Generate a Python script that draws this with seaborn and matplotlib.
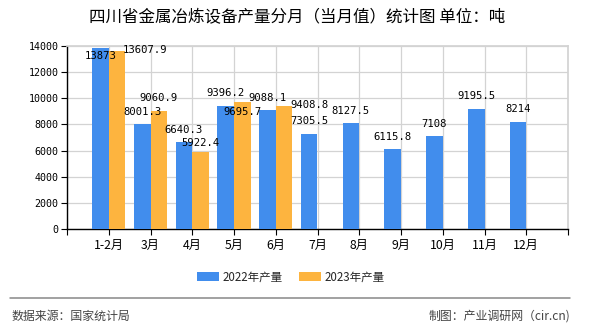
import matplotlib
matplotlib.use("Agg")
import matplotlib.pyplot as plt
import seaborn as sns
import pandas as pd
import numpy as np
from matplotlib.lines import Line2D
from matplotlib.patches import Patch

months = ["1-2月", "3月", "4月", "5月", "6月", "7月", "8月", "9月", "10月", "11月", "12月"]
prod_2022 = [13873, 8001.3, 6640.3, 9396.2, 9088.1, 7305.5, 8127.5, 6115.8, 7108, 9195.5, 8214]
prod_2023 = [13607.9, 9060.9, 5922.4, 9695.7, 9408.8, None, None, None, None, None, None]
label_2022 = ["13873", "8001.3", "6640.3", "9396.2", "9088.1", "7305.5", "8127.5", "6115.8", "7108", "9195.5", "8214"]
label_2023 = ["13607.9", "9060.9", "5922.4", "9695.7", "9408.8", "", "", "", "", "", ""]
series = ["2022年产量", "2023年产量"]
colors = ["#418DED", "#FDB43F"]

rows = []
for m, v in zip(months, prod_2022):
    rows.append({"month": m, "series": series[0], "value": v})
for m, v in zip(months, prod_2023):
    if v is not None:
        rows.append({"month": m, "series": series[1], "value": v})
df = pd.DataFrame(rows)

sns.set_theme(style="white")
cjk = ["Noto Sans CJK SC", "DejaVu Sans"]
plt.rcParams["font.family"] = cjk

fig = plt.figure(figsize=(5.9, 3.3), dpi=100)
ax = fig.add_axes([67 / 590, 1 - 229 / 330, (568 - 67) / 590, (229 - 46) / 330])

sns.barplot(data=df, x="month", y="value", hue="series", order=months,
            hue_order=series, palette=colors, width=0.8, saturation=1,
            ax=ax, legend=False, zorder=3, edgecolor="none", linewidth=0)

ax.set_xlim(-0.96, 11)
ax.set_ylim(0, 14000)
ax.set_yticks(np.arange(0, 14001, 2000))
ax.set_yticklabels([str(int(t)) for t in np.arange(0, 14001, 2000)],
                   family="DejaVu Sans Mono", fontsize=7.2)
ticks = list(range(-1, 12))
ax.set_xticks(ticks)
ax.set_xticklabels([""] + months + [""], fontsize=8.8)
ax.set_xlabel("")
ax.set_ylabel("")
ax.grid(True, color="#d3d3d3", linewidth=0.9, zorder=0)
for s in ["top", "right"]:
    ax.spines[s].set_color("#d3d3d3")
for s in ["left", "bottom"]:
    ax.spines[s].set_color("black")
    ax.spines[s].set_linewidth(1.0)
ax.tick_params(axis="both", which="both", length=4, color="black", width=0.8,
               direction="out", bottom=True, left=True, pad=2, colors="black")
ax.tick_params(axis="x", pad=3)

# value labels (pixel nudges to mimic the reference's placement)
nudge_2022 = [(0, -8), (0, 12), (0, 12), (0, 13), (0, 12), (0, 13), (0, 12), (0, 12), (0, 12), (0, 13), (0, 13)]
nudge_2023 = [(28, 1), (0, 12.5), (0, 9), (0, -10), (25, 1)]
for i, (v, t) in enumerate(zip(prod_2022, label_2022)):
    dx, dy = nudge_2022[i]
    ax.annotate(t, (i - 0.2, v), xytext=(dx, dy), textcoords="offset pixels",
                ha="center", va="center", fontsize=7.6, family="DejaVu Sans Mono",
                color="black", zorder=5)
for i, (v, t) in enumerate(zip(prod_2023, label_2023)):
    if v is None:
        continue
    dx, dy = nudge_2023[i]
    ax.annotate(t, (i + 0.2, v), xytext=(dx, dy), textcoords="offset pixels",
                ha="center", va="center", fontsize=7.6, family="DejaVu Sans Mono",
                color="black", zorder=5)

# legend
handles = [Patch(facecolor=c, edgecolor="none") for c in colors]
fig.legend(handles, series, loc="center", bbox_to_anchor=(291 / 590, 1 - 277 / 330),
           ncol=2, frameon=False, fontsize=8.3, handlelength=1.9, handleheight=0.75,
           handletextpad=0.3, columnspacing=1.4, borderaxespad=0)

fig.text(297 / 590, 1 - 18 / 330, "四川省金属冶炼设备产量分月（当月值）统计图 单位：吨",
         ha="center", va="center", fontsize=11.9, color="black")

fig.add_artist(Line2D([10 / 590, 570 / 590], [1 - 298 / 330, 1 - 298 / 330],
                      color="#888888", linewidth=1.1, transform=fig.transFigure))
fig.text(12 / 590, 1 - 316 / 330, "数据来源：国家统计局", ha="left", va="center",
         fontsize=8.6, color="#444444")
fig.text(570 / 590, 1 - 316 / 330, "制图：产业调研网（cir.cn)", ha="right", va="center",
         fontsize=8.6, color="#444444")

fig.savefig("out.png", dpi=100)
